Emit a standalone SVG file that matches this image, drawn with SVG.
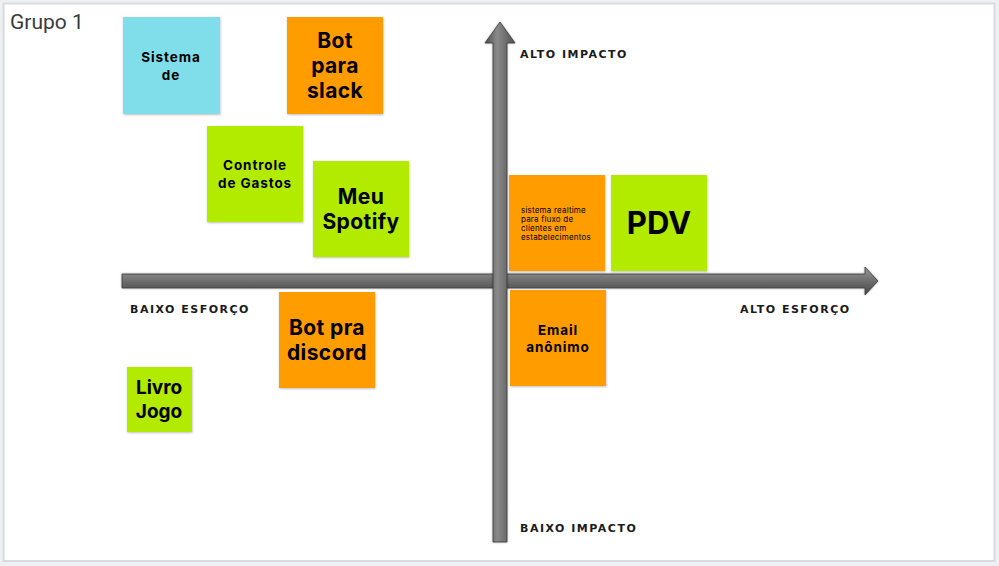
<svg xmlns="http://www.w3.org/2000/svg" width="999" height="566" viewBox="0 0 999 566">
<defs>
<linearGradient id="gh" x1="0" y1="0" x2="0" y2="1">
<stop offset="0" stop-color="#9a9a9a"/>
<stop offset="0.35" stop-color="#7a7a7a"/>
<stop offset="1" stop-color="#454545"/>
</linearGradient>
<linearGradient id="gv" x1="0" y1="0" x2="1" y2="0">
<stop offset="0" stop-color="#4a4a4a"/>
<stop offset="0.4" stop-color="#8a8a8a"/>
<stop offset="1" stop-color="#505050"/>
</linearGradient>
<filter id="sh" x="-10%" y="-10%" width="125%" height="125%">
<feDropShadow dx="0.5" dy="1" stdDeviation="0.8" flood-color="#000" flood-opacity="0.25"/>
</filter>
<filter id="ash" x="-5%" y="-5%" width="110%" height="110%">
<feDropShadow dx="0" dy="0" stdDeviation="0.8" flood-color="#000" flood-opacity="0.35"/>
</filter>
</defs>
<style>
.st{filter:url(#sh)}
.t{font-family:Inter,"Open Sans",sans-serif;font-weight:700;fill:#000;text-anchor:middle}
.b{font-size:21px;letter-spacing:0.4px}
.s{font-size:13.5px;letter-spacing:0.9px}
.ax{font-family:"DejaVu Sans",sans-serif;font-weight:700;font-size:11px;letter-spacing:1.5px;fill:#1a1a1a}
</style>
<rect x="0" y="0" width="999" height="566" fill="#eef0f3"/>
<rect x="3.5" y="3.5" width="991" height="557.5" fill="#ffffff" stroke="#d9dbe0" stroke-width="2"/>
<text x="10" y="29" font-family="Roboto,'Noto Sans',sans-serif" font-size="21" fill="#3a3a3a">Grupo 1</text>

<g id="connectors">
<path d="M122 274 H865 V267 L878 281 L865 295 V288 H122 Z" fill="url(#gh)" stroke="#3a3a3a" stroke-width="0.8" filter="url(#ash)"/>
<path d="M493 542 V43 H485 L500 22 L515 43 H507 V542 Z" fill="url(#gv)" stroke="#3a3a3a" stroke-width="0.8" filter="url(#ash)"/>
</g>

<g id="labels">
<text class="ax" x="520" y="58">ALTO IMPACTO</text>
<text class="ax" x="130" y="313">BAIXO ESFORÇO</text>
<text class="ax" x="740" y="313">ALTO ESFORÇO</text>
<text class="ax" x="520" y="532">BAIXO IMPACTO</text>
</g>

<g id="sistema-de">
<rect class="st" x="123" y="17" width="97" height="97" fill="#80deea"/>
<text class="t s" x="171" y="62">Sistema</text>
<text class="t s" x="171" y="80">de</text>
</g>

<g id="bot-slack">
<rect class="st" x="287" y="17" width="96" height="97" fill="#ff9d00"/>
<text class="t b" x="335" y="48">Bot</text>
<text class="t b" x="335" y="73">para</text>
<text class="t b" x="335" y="98">slack</text>
</g>

<g id="controle-gastos">
<rect class="st" x="207" y="126" width="96" height="96" fill="#b2ea00"/>
<text class="t s" x="255" y="170">Controle</text>
<text class="t s" x="255" y="188">de Gastos</text>
</g>

<g id="meu-spotify">
<rect class="st" x="313" y="161" width="96" height="96" fill="#b2ea00"/>
<text class="t b" x="361" y="204">Meu</text>
<text class="t b" x="361" y="229">Spotify</text>
</g>

<g id="sistema-realtime">
<rect class="st" x="509" y="175" width="96" height="96" fill="#ff9d00"/>
<g font-family="Inter,'Open Sans',sans-serif" font-size="8" letter-spacing="0.2" fill="#000">
<text x="521" y="213">sistema realtime</text>
<text x="521" y="222">para fluxo de</text>
<text x="521" y="231">clientes em</text>
<text x="521" y="240">estabelecimentos</text>
</g>
</g>

<g id="pdv">
<rect class="st" x="611" y="175" width="96" height="96" fill="#b2ea00"/>
<text class="t" font-size="31" x="659" y="234">PDV</text>
</g>

<g id="bot-discord">
<rect class="st" x="279" y="292" width="96" height="96" fill="#ff9d00"/>
<text class="t b" x="327" y="335">Bot pra</text>
<text class="t b" x="327" y="360">discord</text>
</g>

<g id="email-anonimo">
<rect class="st" x="510" y="290" width="96" height="96" fill="#ff9d00"/>
<text class="t s" x="558" y="335">Email</text>
<text class="t s" x="558" y="352">anônimo</text>
</g>

<g id="livro-jogo">
<rect class="st" x="127" y="367" width="65" height="65" fill="#b2ea00"/>
<text class="t" font-size="19" x="159" y="394">Livro</text>
<text class="t" font-size="19" x="159" y="418">Jogo</text>
</g>
</svg>
